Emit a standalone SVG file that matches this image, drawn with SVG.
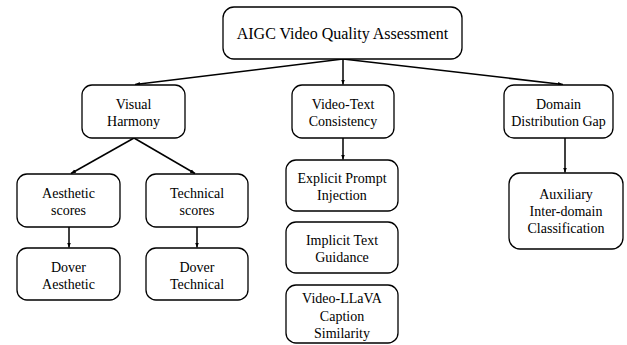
<svg xmlns="http://www.w3.org/2000/svg" width="627" height="345" viewBox="0 0 627 345">
<style>
.box{fill:#fff;stroke:#000;stroke-width:1.3}
text{font-family:"Liberation Serif","Times New Roman",serif;font-size:14px;fill:#000;text-anchor:middle}
.t{font-size:16px}
.c line{stroke:#000;stroke-width:1.5}
</style>
<defs>
<marker id="a" viewBox="0 0 10 10" refX="10" refY="5" markerWidth="5" markerHeight="5" orient="auto" markerUnits="userSpaceOnUse">
<path d="M0,1 L10,5 L0,9 z" fill="#000"/>
</marker>
</defs>
<rect width="627" height="345" fill="#fff"/>
<g class="c">
<line x1="343" y1="59" x2="135" y2="84.5" marker-end="url(#a)"/>
<line x1="343" y1="59" x2="343" y2="84.5" marker-end="url(#a)"/>
<line x1="343" y1="59" x2="563" y2="84.5" marker-end="url(#a)"/>
<line x1="134" y1="138" x2="71" y2="173.5" marker-end="url(#a)"/>
<line x1="134" y1="138" x2="195" y2="173.5" marker-end="url(#a)"/>
<line x1="69" y1="227" x2="69" y2="247.5" marker-end="url(#a)"/>
<line x1="197" y1="227" x2="197" y2="247.5" marker-end="url(#a)"/>
<line x1="343" y1="138" x2="343" y2="159.5" marker-end="url(#a)"/>
<line x1="565" y1="138" x2="565" y2="172.5" marker-end="url(#a)"/>
</g>
<g id="root"><rect class="box" x="223" y="7" width="239" height="52" rx="11"/><text class="t" x="342.5" y="39">AIGC Video Quality Assessment</text></g>
<g id="visual"><rect class="box" x="82" y="85" width="103" height="53" rx="10"/><text x="133.5" y="109">Visual</text><text x="133.5" y="126">Harmony</text></g>
<g id="vtc"><rect class="box" x="292" y="85" width="102" height="53" rx="10"/><text x="343" y="109">Video-Text</text><text x="343" y="126">Consistency</text></g>
<g id="ddg"><rect class="box" x="504" y="85" width="109" height="53" rx="10"/><text x="558.5" y="109">Domain</text><text x="558.5" y="126">Distribution Gap</text></g>
<g id="aes"><rect class="box" x="17" y="174" width="103" height="53" rx="10"/><text x="68.5" y="198">Aesthetic</text><text x="68.5" y="215">scores</text></g>
<g id="tech"><rect class="box" x="146" y="174" width="102" height="53" rx="10"/><text x="197" y="198">Technical</text><text x="197" y="215">scores</text></g>
<g id="doa"><rect class="box" x="17" y="248" width="103" height="52" rx="10"/><text x="68.5" y="272">Dover</text><text x="68.5" y="289">Aesthetic</text></g>
<g id="dot"><rect class="box" x="146" y="248" width="102" height="52" rx="10"/><text x="197" y="272">Dover</text><text x="197" y="289">Technical</text></g>
<g id="epi"><rect class="box" x="286" y="160" width="112" height="51" rx="10"/><text x="342" y="183">Explicit Prompt</text><text x="342" y="200">Injection</text></g>
<g id="itg"><rect class="box" x="286" y="222" width="112" height="51" rx="10"/><text x="342" y="245">Implicit Text</text><text x="342" y="262">Guidance</text></g>
<g id="llava"><rect class="box" x="286" y="285" width="112" height="58" rx="10"/><text x="342" y="303">Video-LLaVA</text><text x="342" y="321">Caption</text><text x="342" y="338">Similarity</text></g>
<g id="aux"><rect class="box" x="509" y="173" width="114" height="76" rx="11"/><text x="566" y="199">Auxiliary</text><text x="566" y="216">Inter-domain</text><text x="566" y="233">Classification</text></g>
</svg>
